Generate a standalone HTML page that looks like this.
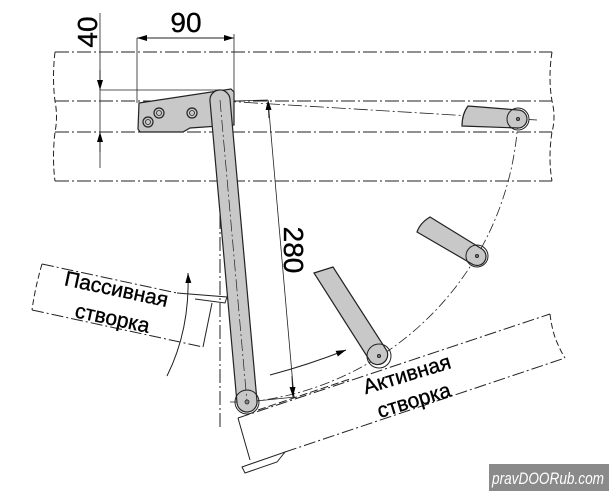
<!DOCTYPE html>
<html><head><meta charset="utf-8"><style>
html,body{margin:0;padding:0;background:#fff;width:609px;height:491px;overflow:hidden}
svg{display:block}
text{font-family:"Liberation Sans",sans-serif;fill:#000;stroke:#000;stroke-width:0.35}
</style></head><body>
<svg width="609" height="491" viewBox="0 0 609 491" xmlns="http://www.w3.org/2000/svg">
<defs>
<marker id="ar" viewBox="0 0 10 10" refX="10" refY="5" markerWidth="10" markerHeight="10" orient="auto-start-reverse" markerUnits="userSpaceOnUse"><path d="M0,2 L10,5 L0,8 Z" fill="#000"/></marker>
</defs>
<g fill="none" stroke="#222" stroke-width="1">
<g stroke-dasharray="14,3,2,3">
<line x1="55" y1="52" x2="552" y2="52"/>
<line x1="55" y1="101" x2="552" y2="101"/>
<line x1="55" y1="132" x2="552" y2="132"/>
<line x1="55" y1="181" x2="552" y2="181"/>
</g>
<path d="M55,52 Q52,78 55,101 Q58,117 55,132 Q52,158 55,181" stroke-dasharray="6,3"/>
<path d="M552,52 Q548,78 552,101 Q556,117 552,132 Q548,158 552,181" stroke-dasharray="6,3"/>
<line x1="100" y1="13" x2="100" y2="168" stroke-width="0.8"/>
<line x1="100" y1="70" x2="100" y2="90" marker-end="url(#ar)"/>
<line x1="100" y1="152" x2="100" y2="132" marker-end="url(#ar)"/>
<line x1="100" y1="90" x2="232" y2="90" stroke-width="0.8"/>
<line x1="137" y1="38" x2="234" y2="38" marker-start="url(#ar)" marker-end="url(#ar)"/>
<line x1="137" y1="38" x2="137" y2="103" stroke-width="0.8"/>
<line x1="234" y1="34" x2="234" y2="95" stroke-width="0.8"/>
<line x1="220" y1="105" x2="220" y2="428" stroke-dasharray="14,3,2,3"/>
<line x1="222" y1="101" x2="537" y2="120" stroke-dasharray="14,3,2,3" stroke-width="0.8"/>
<path d="M518,119 A300,300 0 0 1 248,402" stroke-dasharray="10,3,2,3" stroke-width="0.8"/>
<line x1="232" y1="101" x2="268" y2="100" stroke-width="0.8"/>
<line x1="268" y1="100" x2="294" y2="397" stroke-width="0.8"/>
<line x1="269" y1="118" x2="268" y2="100" marker-end="url(#ar)"/>
<line x1="292" y1="376" x2="293" y2="397" marker-end="url(#ar)"/>
<line x1="247" y1="402" x2="295" y2="397" stroke-width="0.8"/>
<line x1="230" y1="402" x2="250" y2="402" stroke-width="0.8"/>
<path d="M42,264 L177,293" stroke-dasharray="12,3,2,3"/>
<path d="M32,310 L203,347" stroke-dasharray="12,3,2,3"/>
<path d="M42,264 Q35,288 32,310" stroke-dasharray="6,3"/>
<path d="M203,347 L212,303"/>
<path d="M177,293 L227,297 L225,303 L195,299"/>
<path d="M167,376 Q190,330 188,273" marker-end="url(#ar)"/>
<path d="M238,418 L550,314" stroke-dasharray="12,3,2,3"/>
<path d="M258,410 L350,379" stroke-dasharray="8,3"/>
<path d="M285,452 L565,358" stroke-dasharray="12,3,2,3"/>
<path d="M550,314 Q552,330 556,340 Q560,350 565,358" stroke-dasharray="6,3"/>
<path d="M238,418 L250,460"/>
<path d="M242,467 L285,452 L277,462 L245,473 Z"/>
<path d="M270,375 Q308,365 346,350" marker-end="url(#ar)"/>
</g>
<path d="M139,103 L231,89 L234,92 L234,125 L190,128 L183,132 L140,132 L138,129 Z" fill="#c8c8c8" stroke="#222" stroke-width="1.2"/>
<g fill="#c8c8c8" stroke="#222" stroke-width="1.2">
<circle cx="148" cy="122" r="5"/><circle cx="159" cy="113" r="5"/><circle cx="192" cy="113" r="5"/>
</g>
<g fill="none" stroke="#222" stroke-width="0.8">
<circle cx="148" cy="122" r="2.5"/><circle cx="159" cy="113" r="2.5"/><circle cx="192" cy="113" r="2.5"/>
</g>
<path d="M210,101 A10,10 0 0 1 230,99 L257,401 A10,10 0 0 1 237,403 Z" fill="#c8c8c8" stroke="#222" stroke-width="1.2"/>
<line x1="220" y1="100" x2="247" y2="402" stroke="#222" stroke-width="0.7" stroke-dasharray="12,3,2,3"/>
<circle cx="247" cy="402" r="12" fill="none" stroke="#222" stroke-width="1"/>
<circle cx="247" cy="402" r="2" fill="#888" stroke="#222" stroke-width="0.8"/>
<path d="M468,106 L518,110 A9,9 0 0 1 518,128 L462,126 Q462,114 468,106 Z" fill="#c8c8c8" stroke="#222" stroke-width="1.2"/>
<circle cx="518" cy="119" r="11" fill="none" stroke="#222" stroke-width="1"/>
<circle cx="518" cy="119" r="1.5" fill="#888" stroke="#222"/>
<path d="M430,217 L482,249 A9,9 0 0 1 472,264 L417,232 Q420,223 430,217 Z" fill="#c8c8c8" stroke="#222" stroke-width="1.2"/>
<circle cx="477" cy="256" r="11" fill="none" stroke="#222" stroke-width="1"/>
<circle cx="477" cy="256" r="1.5" fill="#888" stroke="#222"/>
<path d="M314,273 L333,267 L387,351 A10,10 0 0 1 370,361 Z" fill="#c8c8c8" stroke="#222" stroke-width="1.2"/>
<circle cx="379" cy="356" r="12" fill="none" stroke="#222" stroke-width="1"/>
<circle cx="379" cy="356" r="1.5" fill="#888" stroke="#222"/>
<text x="186" y="32" font-size="28" text-anchor="middle">90</text>
<text transform="translate(97,32) rotate(-90)" font-size="28" text-anchor="middle">40</text>
<text transform="translate(284,250) rotate(90)" font-size="28" text-anchor="middle">280</text>
<text transform="translate(115,296) rotate(12)" font-size="21" text-anchor="middle">Пассивная</text>
<text transform="translate(111,325) rotate(12)" font-size="21" text-anchor="middle">створка</text>
<text transform="translate(409,381) rotate(-17)" font-size="21" text-anchor="middle">Активная</text>
<text transform="translate(416,407) rotate(-17)" font-size="21" text-anchor="middle">створка</text>
<rect x="489" y="464" width="120" height="27" fill="#8a8a8a"/>
<text x="548" y="484" font-size="17" font-style="italic" text-anchor="middle" style="fill:#fff;stroke:none" textLength="112" lengthAdjust="spacingAndGlyphs">pravDOORub.com</text>
</svg>
</body></html>
